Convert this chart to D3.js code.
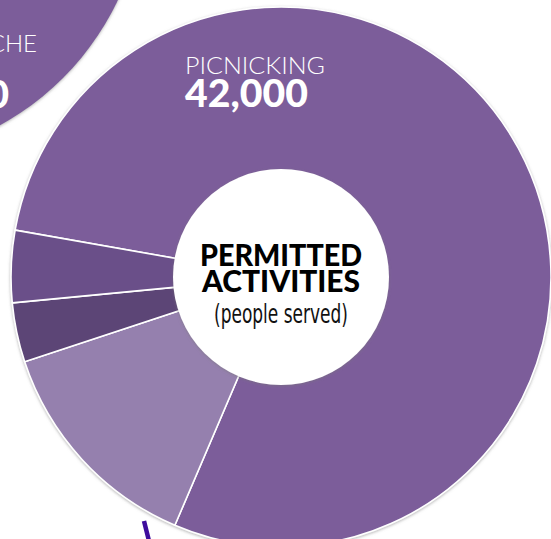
<!DOCTYPE html>
<html>
<head>
<meta charset="utf-8">
<script src="https://cdn.jsdelivr.net/npm/d3@7"></script>
<style>
  html, body { margin: 0; padding: 0; background: #fff; overflow: hidden; }
  svg { display: block; }
</style>
</head>
<body>
<div class="plot"></div>
<script>
// permitted activities (people served)
const categories = ["Picnicking", "Activity 2", "Activity 3", "Activity 4"];
const values = [42000, 7200, 1900, 2300];
const sliceColors = ["#7b5d9a", "#9580ae", "#5c4576", "#6a5089"];
const valueLabels = ["42,000"];

// neighbouring chart, cut off at the top-left corner
const neighborLabel = "CHE";
const neighborValueTail = "0";

const width = 551, height = 539;
const cx = 281, cy = 277;
const outerR = 270, innerR = 108;

let svg = d3.select(".plot")
  .append("svg")
  .attr("width", width)
  .attr("height", height);

// soft grey edge shadow
let defs = svg.append("defs");
let f = defs.append("filter")
  .attr("id", "shadow")
  .attr("x", "-20%").attr("y", "-20%")
  .attr("width", "140%").attr("height", "140%");
f.append("feDropShadow")
  .attr("dx", 0).attr("dy", 1)
  .attr("stdDeviation", 1.6)
  .attr("flood-color", "#777")
  .attr("flood-opacity", 0.55);

// neighbour pie (top-left)
let nb = svg.append("g");
nb.append("circle")
  .attr("cx", -135)
  .attr("cy", -120)
  .attr("r", 280)
  .attr("fill", sliceColors[0])
  .attr("filter", "url(#shadow)");
nb.append("text")
  .attr("x", 37)
  .attr("y", 52)
  .attr("text-anchor", "end")
  .attr("fill", "#fff")
  .style("font-family", "Lato, 'Open Sans', sans-serif")
  .style("font-weight", 300)
  .style("font-size", "24px")
  .text(neighborLabel);
nb.append("text")
  .attr("x", 9)
  .attr("y", 108)
  .attr("text-anchor", "end")
  .attr("fill", "#fff")
  .style("font-family", "Lato, sans-serif")
  .style("font-weight", 900)
  .style("font-size", "38px")
  .text(neighborValueTail);

// main donut
let pie = d3.pie()
  .sort(null)
  .value(d => d)
  .startAngle(-80 * Math.PI / 180)
  .endAngle(-80 * Math.PI / 180 + 2 * Math.PI);

let arc = d3.arc()
  .innerRadius(0)
  .outerRadius(outerR);

let g = svg.append("g")
  .attr("transform", "translate(" + cx + "," + cy + ")");

let ring = g.append("g")
  .attr("filter", "url(#shadow)");

ring.selectAll(".slice")
  .data(pie(values))
  .enter()
  .append("path")
  .attr("class", "slice")
  .attr("d", arc)
  .attr("fill", (d, i) => sliceColors[i])
  .attr("stroke", "#fff")
  .attr("stroke-width", 1.6)
  .attr("stroke-linejoin", "round");

// centre disc
g.append("circle")
  .attr("r", innerR)
  .attr("fill", "#fff")
  .attr("filter", "url(#shadow)");

// title in the hole
g.append("text")
  .attr("x", 0).attr("y", -11)
  .attr("text-anchor", "middle")
  .attr("fill", "#000")
  .attr("textLength", 162)
  .attr("lengthAdjust", "spacingAndGlyphs")
  .style("font-family", "Lato, Roboto, sans-serif")
  .style("font-weight", 900)
  .style("font-size", "30px")
  .text("PERMITTED");
g.append("text")
  .attr("x", 0).attr("y", 15)
  .attr("text-anchor", "middle")
  .attr("fill", "#000")
  .attr("textLength", 158)
  .attr("lengthAdjust", "spacingAndGlyphs")
  .style("font-family", "Lato, Roboto, sans-serif")
  .style("font-weight", 900)
  .style("font-size", "30px")
  .text("ACTIVITIES");
g.append("text")
  .attr("x", 0).attr("y", 46)
  .attr("text-anchor", "middle")
  .attr("fill", "#111")
  .attr("textLength", 134)
  .attr("lengthAdjust", "spacingAndGlyphs")
  .style("font-family", "'Liberation Sans Narrow', 'DejaVu Sans Condensed', sans-serif")
  .style("font-size", "27px")
  .text("(people served)");

// label of the biggest slice
g.append("text")
  .attr("x", 185 - cx)
  .attr("y", 74 - cy)
  .attr("fill", "#fff")
  .attr("textLength", 140)
  .attr("lengthAdjust", "spacingAndGlyphs")
  .style("font-family", "Lato, 'Open Sans', sans-serif")
  .style("font-weight", 300)
  .style("font-size", "24px")
  .text(categories[0].toUpperCase());
g.append("text")
  .attr("x", 185 - cx)
  .attr("y", 107 - cy)
  .attr("fill", "#fff")
  .attr("textLength", 123)
  .attr("lengthAdjust", "spacingAndGlyphs")
  .style("font-family", "Lato, sans-serif")
  .style("font-weight", 900)
  .style("font-size", "37px")
  .text(valueLabels[0]);

// leader stroke from the chart below
svg.append("line")
  .attr("x1", 144).attr("y1", 521)
  .attr("x2", 150).attr("y2", 545)
  .attr("stroke", "#3e0c9d")
  .attr("stroke-width", 4.5);
</script>
</body>
</html>
